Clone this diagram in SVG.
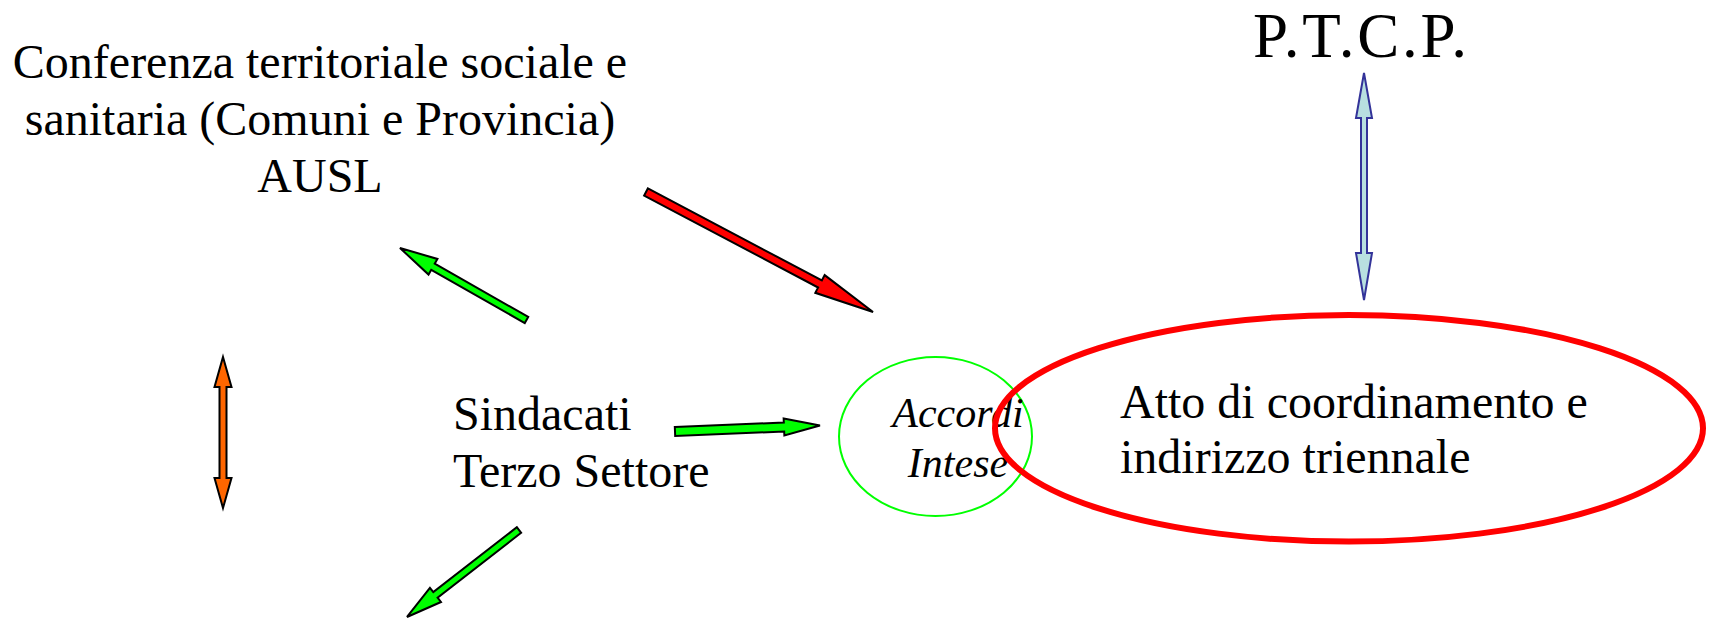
<svg xmlns="http://www.w3.org/2000/svg" width="1709" height="619" viewBox="0 0 1709 619">
<style>
.t{font-family:"Liberation Serif","Times New Roman",serif;fill:#000}
.a{stroke:#000;stroke-width:2;stroke-linejoin:miter}
.g{fill:#00ff00}
</style>
<rect width="1709" height="619" fill="#fff"/>
<g id="conferenza">
<text class="t" font-size="48" text-anchor="middle" x="320" y="78">Conferenza territoriale sociale e</text>
<text class="t" font-size="48" text-anchor="middle" x="320" y="135">sanitaria (Comuni e Provincia)</text>
<text class="t" font-size="48" text-anchor="middle" x="320" y="192">AUSL</text>
</g>
<g id="ptcp">
<text class="t" font-size="63" x="1253" y="57" textLength="214" lengthAdjust="spacing">P.T.C.P.</text>
</g>
<g id="sindacati">
<text class="t" font-size="48" x="453" y="430">Sindacati</text>
<text class="t" font-size="48" x="453" y="487">Terzo Settore</text>
</g>
<g id="accordi">
<ellipse cx="935.5" cy="436.5" rx="96.5" ry="79.5" fill="none" stroke="#00ff00" stroke-width="2"/>
<text class="t" font-size="42" font-style="italic" text-anchor="middle" x="958" y="427">Accordi</text>
<text class="t" font-size="42" font-style="italic" text-anchor="middle" x="958" y="477">Intese</text>
</g>
<g id="atto">
<ellipse cx="1349" cy="428.3" rx="354" ry="113.3" fill="none" stroke="#ff0000" stroke-width="6"/>
<text class="t" font-size="48" x="1120" y="418">Atto di coordinamento e</text>
<text class="t" font-size="48" x="1120" y="473">indirizzo triennale</text>
</g>
<g id="connectors">
<path class="a" fill="#ff0000" transform="translate(646,192) rotate(27.86)" d="M0,-4 L196.8,-4 L196.8,-10 L256.8,0 L196.8,10 L196.8,4 L0,4 Z"/>
<path class="a g" transform="translate(526.5,320) rotate(-150.35)" d="M0,-3.5 L107.6,-3.5 L107.6,-9 L145.6,0 L107.6,9 L107.6,3.5 L0,3.5 Z"/>
<path class="a g" transform="translate(675,431.5) rotate(-2.37)" d="M0,-4.5 L109.1,-4.5 L109.1,-8.5 L145.1,0 L109.1,8.5 L109.1,4.5 L0,4.5 Z"/>
<path class="a g" transform="translate(519,530) rotate(142.16)" d="M0,-3.5 L105.8,-3.5 L105.8,-9 L141.8,0 L105.8,9 L105.8,3.5 L0,3.5 Z"/>
<path class="a" fill="#ff6600" d="M223,357 L231.5,387 L226.5,387 L226.5,478 L231.5,478 L223,508 L214.5,478 L219.5,478 L219.5,387 L214.5,387 Z"/>
<path fill="#b8e0e0" stroke="#333399" stroke-width="2" d="M1364,73 L1372,118 L1367,118 L1367,253 L1372,253 L1364,300 L1356,253 L1361,253 L1361,118 L1356,118 Z"/>
</g>
</svg>
